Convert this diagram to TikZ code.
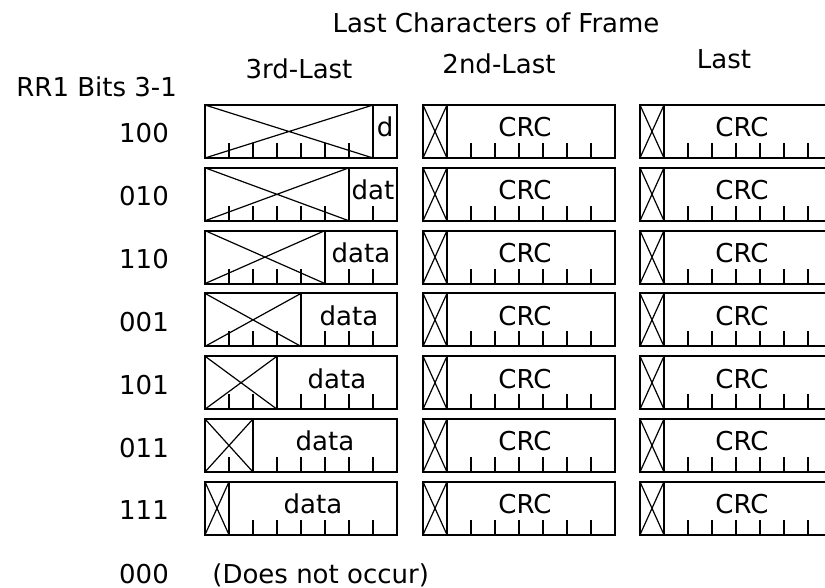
\documentclass[tikz,border=0pt]{standalone}
\usepackage{fontspec}
\setmainfont{DejaVu Sans}

\begin{document}
\begin{tikzpicture}[
    x=0.5pt, y=-0.5pt,
    every node/.style={font=\fontsize{13}{15}\selectfont, inner sep=0pt},
    frame/.style={line width=1pt},
    cross/.style={line width=0.6pt},
    tick/.style={line width=0.8pt},
  ]
  \clip (0,0) rectangle (825,588);

  % Headings
  \node[anchor=base] (title) at (496,33) {Last Characters of Frame};
  \node[anchor=base west] (rrbits) at (16,97) {RR1 Bits 3-1};
  \node[anchor=base] (third) at (299,79) {3rd-Last};
  \node[anchor=base] (second) at (499,74) {2nd-Last};
  \node[anchor=base] (last) at (724,69) {Last};

  % Rows
  \foreach \bits/\txt [count=\i from 0] in
      {100/d, 010/dat, 110/data, 001/data, 101/data, 011/data, 111/data} {
    \pgfmathsetmacro{\ry}{105+62.8*\i}
    \pgfmathtruncatemacro{\n}{7-\i}
    \pgfmathsetmacro{\xd}{205+24*\n}
    \node[anchor=base] (bits\i) at (144,\ry+38) {\bits};

    % 3rd-last character
    \draw[frame] (205,\ry) rectangle ++(192,53);
    \draw[frame] (\xd,\ry) -- ++(0,53);
    \draw[cross] (205,\ry) -- (\xd,\ry+53) (205,\ry+53) -- (\xd,\ry);
    \foreach \k in {1,...,7} {
      \ifnum\k=\n\else \draw[tick] (205+24*\k,\ry+53) -- ++(0,-15); \fi
    }
    \node[anchor=base] (data\i) at ({(\xd+397)/2},\ry+32) {\txt};

    % 2nd-last and last character
    \foreach \cx/\col in {423/A, 640/B} {
      \draw[frame] (\cx,\ry) rectangle ++(192,53);
      \draw[frame] (\cx+24,\ry) -- ++(0,53);
      \draw[cross] (\cx,\ry) -- (\cx+24,\ry+53) (\cx,\ry+53) -- (\cx+24,\ry);
      \foreach \k in {2,...,7} {
        \draw[tick] (\cx+24*\k,\ry+53) -- ++(0,-15);
      }
      \node[anchor=base] (crc\col\i) at (\cx+102,\ry+32) {CRC};
    }
  }

  % Unused code
  \node[anchor=base] (bitsnone) at (144,583) {000};
  \node[anchor=base west] (nooccur) at (212,583) {(Does not occur)};
\end{tikzpicture}
\end{document}
